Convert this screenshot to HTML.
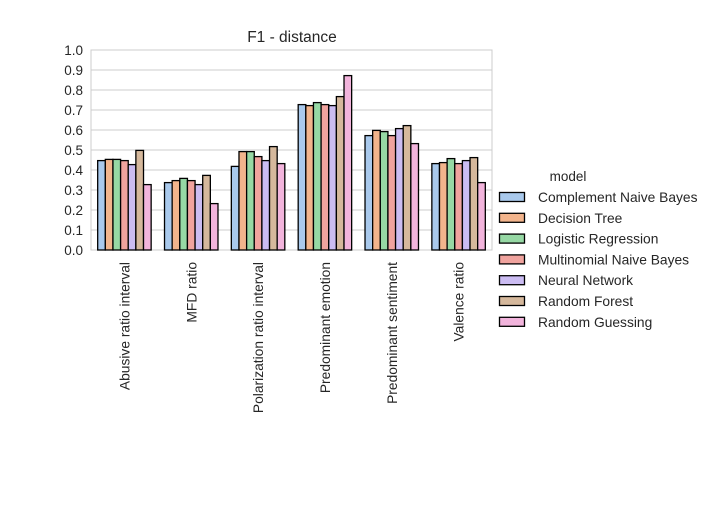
<!DOCTYPE html>
<html><head><meta charset="utf-8"><style>
body{margin:0;background:#fff}
svg text{font-family:"Liberation Sans",Arial,sans-serif;fill:#262626}
</style></head><body>
<svg id="chart" width="710" height="500" xmlns="http://www.w3.org/2000/svg">
<rect width="710" height="500" fill="#fff"/>
<text x="292" y="42" font-size="15.5" text-anchor="middle">F1 - distance</text>
<g id="grid"></g><g id="bars"></g><g id="xlabels"></g><g id="ylabels"></g><g id="legend"></g>
</svg>
<script>
const categories=["Abusive ratio interval","MFD ratio","Polarization ratio interval","Predominant emotion","Predominant sentiment","Valence ratio"];
const models=["Complement Naive Bayes","Decision Tree","Logistic Regression","Multinomial Naive Bayes","Neural Network","Random Forest","Random Guessing"];
const colors=["#a9c9ec","#f2b48c","#96d8a4","#f0a39e","#cbbcf2","#d5b89c","#f2b4dc"];
const cnb=[0.447,0.337,0.418,0.727,0.572,0.432];
const dt=[0.453,0.347,0.492,0.722,0.598,0.437];
const lr=[0.453,0.358,0.492,0.737,0.592,0.457];
const mnb=[0.447,0.347,0.467,0.727,0.572,0.432];
const nn=[0.427,0.327,0.447,0.722,0.607,0.447];
const rf=[0.498,0.373,0.517,0.767,0.622,0.462];
const rg=[0.327,0.232,0.432,0.872,0.532,0.337];
const series=[cnb,dt,lr,mnb,nn,rf,rg];
const yTicks=[0,0.1,0.2,0.3,0.4,0.5,0.6,0.7,0.8,0.9,1.0];
const X0=91,X1=492,Y0=250,Y1=50;
const NS="http://www.w3.org/2000/svg";
function y(v){return Y0-(v-0)/(1-0)*(Y0-Y1);}
const bw=(X1-X0)/categories.length;
function mk(t,a,p){const e=document.createElementNS(NS,t);for(const k in a)e.setAttribute(k,a[k]);p.appendChild(e);return e;}
const grid=document.getElementById('grid'),bars=document.getElementById('bars'),xl=document.getElementById('xlabels'),yl=document.getElementById('ylabels'),lg=document.getElementById('legend');
yTicks.forEach(t=>{
 const l=mk('line',{x1:X0,x2:X1,y1:y(t),y2:y(t),stroke:'#cccccc','stroke-width':1},grid);
 
 
 const tx=mk('text',{x:X0-8,y:y(t)+5,'font-size':13.5,'text-anchor':'end'},yl);
 tx.textContent=t.toFixed(1);
 
 
});
const fr=mk('rect',{x:X0,y:Y1,width:X1-X0,height:Y0-Y1,fill:'none',stroke:'#cccccc','stroke-width':1},grid);


const gw=bw*0.8,w=gw/models.length;
categories.forEach((c,i)=>{
 const cx=X0+bw*(i+0.5);
 series.forEach((s,j)=>{
  const x=cx-gw/2+j*w;
  const r=mk('rect',{x:x,y:y(s[i]),width:w,height:Y0-y(s[i]),fill:colors[j],stroke:'#000','stroke-width':1.3},bars);
  
  
 });
 const t=mk('text',{x:0,y:0,'font-size':13.8,'text-anchor':'end',transform:`translate(${cx+5},262) rotate(-90)`},xl);
 t.textContent=c;
 
 
});
const lt=mk('text',{x:568,y:181,'font-size':13.5,'text-anchor':'middle'},lg);
lt.textContent='model';


models.forEach((m,j)=>{
 const cy=197+j*20.8;
 const r=mk('rect',{x:499.5,y:cy-4.5,width:25,height:9,fill:colors[j],stroke:'#000','stroke-width':1.3},lg);
 
 
 const t=mk('text',{x:538,y:cy+5,'font-size':13.8},lg);
 t.textContent=m;
 
 
});
</script>
</body></html>
